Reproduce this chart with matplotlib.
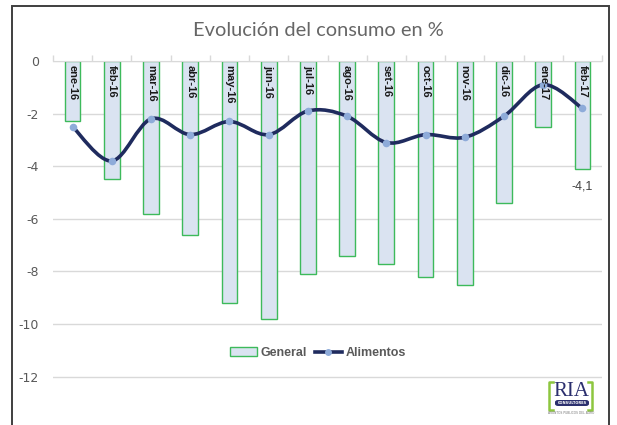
import matplotlib
matplotlib.use("Agg")
import matplotlib.pyplot as plt
from matplotlib.path import Path
from matplotlib.patches import PathPatch, Patch, Rectangle, FancyBboxPatch
from matplotlib.lines import Line2D

# Data
meses = ["ene-16", "feb-16", "mar-16", "abr-16", "may-16", "jun-16", "jul-16",
         "ago-16", "set-16", "oct-16", "nov-16", "dic-16", "ene-17", "feb-17"]
general = [-2.3, -4.5, -5.8, -6.6, -9.2, -9.8, -8.1,
           -7.4, -7.7, -8.2, -8.5, -5.4, -2.5, -4.1]
alimentos = [-2.5, -3.8, -2.2, -2.8, -2.3, -2.8, -1.9,
             -2.1, -3.1, -2.8, -2.9, -2.1, -0.9, -1.8]
y_ticks = [0, -2, -4, -6, -8, -10, -12]

BAR_FILL = "#DAE3F1"
BAR_EDGE = "#3DBA5B"
LINE_COL = "#1F2B5E"
MARK_COL = "#8EABD9"
GRID_COL = "#D9D9D9"
TEXT_COL = "#595959"
NARROW = ["Liberation Sans Narrow", "Liberation Sans"]

W, H = 617, 425
fig = plt.figure(figsize=(W / 100, H / 100), dpi=100, facecolor="white")

# outer frame of the pasted chart
fig.patches.append(Rectangle((12 / W, -0.05), (609 - 12) / W, 1 - 6 / H + 0.05,
                             transform=fig.transFigure, fill=False,
                             edgecolor="#3F3F3F", linewidth=1.4))

ax = fig.add_axes([53 / W, 0.0, (602 - 53) / W, 1 - 61 / H])
ax.set_facecolor("none")
x = list(range(len(meses)))

ax.bar(x, general, width=0.4, color=BAR_FILL, edgecolor=BAR_EDGE,
       linewidth=1.0, zorder=2)

# smoothed line (Catmull-Rom style Bezier, like Excel's smoothed lines)
pts = list(zip(x, alimentos))
verts = [pts[0]]
codes = [Path.MOVETO]
n = len(pts)
for i in range(n - 1):
    p0 = pts[max(i - 1, 0)]
    p1 = pts[i]
    p2 = pts[i + 1]
    p3 = pts[min(i + 2, n - 1)]
    c1 = (p1[0] + (p2[0] - p0[0]) / 6, p1[1] + (p2[1] - p0[1]) / 6)
    c2 = (p2[0] - (p3[0] - p1[0]) / 6, p2[1] - (p3[1] - p1[1]) / 6)
    verts += [c1, c2, p2]
    codes += [Path.CURVE4] * 3
ax.add_patch(PathPatch(Path(verts, codes), facecolor="none", edgecolor=LINE_COL,
                       linewidth=2.6, capstyle="round", zorder=3))
ax.scatter(x, alimentos, s=30, color=MARK_COL, zorder=4, linewidths=0)

# category labels inside the plot, at the top
for xi, lab in zip(x, meses):
    ax.text(xi, -0.17, lab, rotation=270, ha="center", va="top",
            fontsize=8, fontweight="bold", color="#1A1A1A",
            family=NARROW, zorder=5)

# data label for last bar
ax.text(x[-1], general[-1] - 0.45, f"{general[-1]:.1f}".replace(".", ","),
        ha="center", va="top", fontsize=9, color="#404040", family=NARROW)

ax.set_xlim(-0.5, len(meses) - 0.5)
ax.set_ylim(-(H - 61) / 26.3, 0)
ax.set_yticks(y_ticks)
ax.set_yticklabels([str(v) for v in y_ticks])
ax.tick_params(axis="y", length=0, pad=10, labelsize=9, labelcolor=TEXT_COL)
ax.xaxis.tick_top()
ax.set_xticks([v - 0.5 for v in range(len(meses) + 1)])
ax.set_xticklabels([])
ax.tick_params(axis="x", length=4, color=GRID_COL, width=1)
ax.grid(True, axis="y", color=GRID_COL, linewidth=1)
ax.set_axisbelow(True)
for s in ax.spines.values():
    s.set_visible(False)
ax.spines["top"].set_visible(True)
ax.spines["top"].set_color(GRID_COL)

fig.text(318 / W, 1 - 30 / H, "Evolución del consumo en %", ha="center",
         va="center", fontsize=14.4, color="#666666", family="Lato")

handles = [Patch(facecolor=BAR_FILL, edgecolor=BAR_EDGE, linewidth=1.0),
           Line2D([0], [0], color=LINE_COL, linewidth=2.6, marker="o",
                  markersize=5, markerfacecolor=MARK_COL, markeredgewidth=0)]
fig.legend(handles, ["General", "Alimentos"], loc="center",
           bbox_to_anchor=(318 / W, 1 - 353 / H), ncol=2, frameon=False,
           prop={"family": NARROW, "size": 9, "weight": "bold"},
           labelcolor=TEXT_COL, handlelength=2.2, handletextpad=0.3,
           columnspacing=0.6)

# RIA logo
def fx(px):
    return px / W

def fy(py):
    return 1 - py / H

green = "#8DC63F"
for xs in ([553, 549, 549, 553], [588, 592, 592, 588]):
    fig.lines.append(Line2D([fx(v) for v in xs], [fy(382), fy(382), fy(410), fy(410)],
                            color=green, linewidth=1.8, transform=fig.transFigure))
fig.text(fx(571), fy(391), "RIA", ha="center", va="center", fontsize=15,
         family="Liberation Serif", color="#2B2F6E")
fig.patches.append(FancyBboxPatch((fx(555), fy(406)), fx(34), 6 / H,
                                  boxstyle="round,pad=0,rounding_size=0.005",
                                  transform=fig.transFigure, facecolor="#2B2F6E",
                                  edgecolor="none"))
fig.text(fx(572), fy(403), "CONSULTORES", ha="center", va="center",
         fontsize=2.6, color="white", fontweight="bold")
fig.text(fx(571), fy(413), "ASUNTOS PUBLICOS DEL AGRO", ha="center",
         va="center", fontsize=2.2, color="#777777")

fig.savefig("out.png", dpi=100, facecolor="white")
